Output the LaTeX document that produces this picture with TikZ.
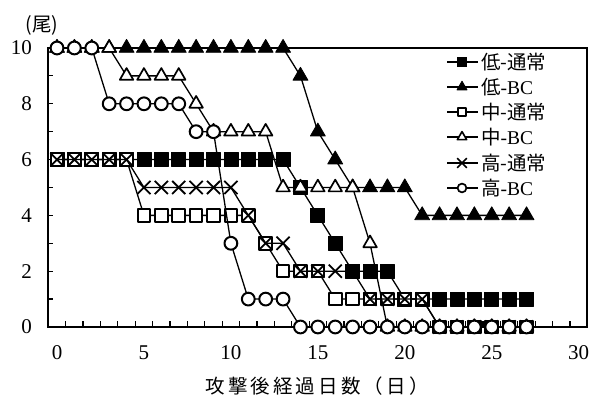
\documentclass[tikz,border=0pt]{standalone}
\usepackage{fontspec}
\usetikzlibrary{plotmarks}
\setmainfont{Liberation Serif}
\newfontfamily\jp{Noto Sans CJK JP}
\newfontfamily\jpw[LetterSpace=16]{Noto Sans CJK JP}
\begin{document}
\begin{tikzpicture}[x=17.39pt,y=27.9pt,
  frame/.style={line width=1.8pt, black, line cap=rect},
  tk/.style={line width=1.2pt, black},
  ser/.style={line width=1.3pt, black, line join=round},
  mksq/.style={mark=square*, mark size=7pt, mark options={solid, fill=black, line width=0.8pt}},
  mktri/.style={mark=triangle*, mark size=8.6pt, mark options={solid, fill=black, line width=0.8pt}},
  mkosq/.style={mark=square*, mark size=6.3pt, mark options={solid, fill=white, line width=2pt}},
  mkotri/.style={mark=triangle*, mark size=7.8pt, mark options={solid, fill=white, line width=1.7pt}},
  mkx/.style={mark=x, mark size=9.3pt, mark options={solid, line width=1.8pt}},
  mkoc/.style={mark=*, mark size=6.4pt, mark options={solid, fill=white, line width=2pt}},
  lsq/.style={mark=square*, mark size=4.8pt, mark options={solid, fill=black, line width=0.8pt}},
  ltri/.style={mark=triangle*, mark size=5.8pt, mark options={solid, fill=black, line width=0.8pt}},
  losq/.style={mark=square*, mark size=4.3pt, mark options={solid, fill=white, line width=1.7pt}},
  lotri/.style={mark=triangle*, mark size=5.4pt, mark options={solid, fill=white, line width=1.6pt}},
  lx/.style={mark=x, mark size=6.8pt, mark options={solid, line width=1.7pt}},
  loc/.style={mark=*, mark size=4.4pt, mark options={solid, fill=white, line width=1.7pt}},
  num/.style={font=\fontsize{21}{21}\selectfont, inner sep=0pt},
  lgt/.style={font=\fontsize{19.5}{19.5}\selectfont, inner sep=0pt, anchor=west}
]
\useasboundingbox (-3.2778,-2.5806) rectangle (30.650,11.720);
% frame
\draw[frame] (-0.5,0) rectangle (30.5,10);
\foreach \v in {0,...,10} \draw[tk] (-0.5,\v) -- ++(5pt,0);
\foreach \k in {0,...,31} \draw[tk] ({\k-0.5},0) -- ++(0,6pt);
% tick labels
\foreach \v in {0,2,...,10} \node[num, anchor=east] (yl\v) at (-1.44,\v) {\v};
\foreach \d in {0,5,...,30} \node[num] (xl\d) at (\d,-0.93) {\d};
\node[inner sep=0pt, font=\jp\fontsize{19.5}{19.5}\selectfont] (yunit) at (-0.86,10.82) {(尾)};
\node[inner sep=0pt, font=\jpw\fontsize{19.5}{19.5}\selectfont] (xtitle) at (14.95,-2.11) {攻撃後経過日数（日）};
% series 低-通常
\draw[ser, mksq] plot coordinates {(0,6)(1,6)(2,6)(3,6)(4,6)(5,6)(6,6)(7,6)(8,6)(9,6)(10,6)(11,6)(12,6)(13,6)(14,5)(15,4)(16,3)(17,2)(18,2)(19,2)(20,1)(21,1)(22,1)(23,1)(24,1)(25,1)(26,1)(27,1)};
% 低-BC
\draw[ser, mktri] plot coordinates {(0,10)(1,10)(2,10)(3,10)(4,10)(5,10)(6,10)(7,10)(8,10)(9,10)(10,10)(11,10)(12,10)(13,10)(14,9)(15,7)(16,6)(17,5)(18,5)(19,5)(20,5)(21,4)(22,4)(23,4)(24,4)(25,4)(26,4)(27,4)};
% 中-通常
\draw[ser, mkosq] plot coordinates {(0,6)(1,6)(2,6)(3,6)(4,6)(5,4)(6,4)(7,4)(8,4)(9,4)(10,4)(11,4)(12,3)(13,2)(14,2)(15,2)(16,1)(17,1)(18,1)(19,1)(20,1)(21,1)(22,0)(23,0)(24,0)(25,0)(26,0)(27,0)};
% 中-BC
\draw[ser, mkotri] plot coordinates {(0,10)(1,10)(2,10)(3,10)(4,9)(5,9)(6,9)(7,9)(8,8)(9,7)(10,7)(11,7)(12,7)(13,5)(14,5)(15,5)(16,5)(17,5)(18,3)(19,0)(20,0)(21,0)(22,0)(23,0)(24,0)(25,0)(26,0)(27,0)};
% 高-通常
\draw[ser, mkx] plot coordinates {(0,6)(1,6)(2,6)(3,6)(4,6)(5,5)(6,5)(7,5)(8,5)(9,5)(10,5)(11,4)(12,3)(13,3)(14,2)(15,2)(16,2)(17,2)(18,1)(19,1)(20,1)(21,1)(22,0)(23,0)(24,0)(25,0)(26,0)(27,0)};
% 高-BC
\draw[ser, mkoc] plot coordinates {(0,10)(1,10)(2,10)(3,8)(4,8)(5,8)(6,8)(7,8)(8,7)(9,7)(10,3)(11,1)(12,1)(13,1)(14,0)(15,0)(16,0)(17,0)(18,0)(19,0)(20,0)(21,0)(22,0)(23,0)(24,0)(25,0)(26,0)(27,0)};
% legend
\draw[ser, lsq, mark indices={2}] plot coordinates {(22.43,9.498)(23.29,9.498)(24.21,9.498)};
\node[lgt] (lg1) at (24.38,9.498) {{\jp 低-通常}};
\draw[ser, ltri, mark indices={2}] plot coordinates {(22.43,8.602)(23.29,8.602)(24.21,8.602)};
\node[lgt] (lg2) at (24.38,8.602) {{\jp 低}-BC};
\draw[ser, losq, mark indices={2}] plot coordinates {(22.43,7.706)(23.29,7.706)(24.21,7.706)};
\node[lgt] (lg3) at (24.38,7.706) {{\jp 中-通常}};
\draw[ser, lotri, mark indices={2}] plot coordinates {(22.43,6.810)(23.29,6.810)(24.21,6.810)};
\node[lgt] (lg4) at (24.38,6.810) {{\jp 中}-BC};
\draw[ser, lx, mark indices={2}] plot coordinates {(22.43,5.878)(23.29,5.878)(24.21,5.878)};
\node[lgt] (lg5) at (24.38,5.878) {{\jp 高-通常}};
\draw[ser, loc, mark indices={2}] plot coordinates {(22.43,4.982)(23.29,4.982)(24.21,4.982)};
\node[lgt] (lg6) at (24.38,4.982) {{\jp 高}-BC};
\end{tikzpicture}
\end{document}
